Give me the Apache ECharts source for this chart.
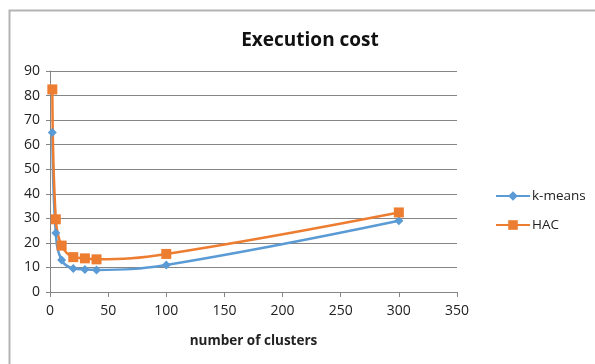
<!DOCTYPE html>
<html><head><meta charset="utf-8">
<script src="https://cdn.jsdelivr.net/npm/echarts@6/dist/echarts.min.js"></script>
<style>html,body{margin:0;padding:0;background:#fff}#c{width:595px;height:364px}</style>
</head><body><div id="c"></div>
<script>
const clusters = [2, 5, 10, 20, 30, 40, 100, 300];
const kmeans = [65, 24, 13, 9.6, 9.2, 9.0, 11, 29];
const hac = [82.5, 29.6, 18.9, 14.2, 13.7, 13.3, 15.5, 32.4];
const xTicks = [0, 350, 50];
const yTicks = [0, 90, 10];

const chart = echarts.init(document.getElementById('c'), null, {renderer: 'canvas'});
const font = 'Open Sans';
chart.setOption({
  animation: false,
  backgroundColor: '#fff',
  graphic: [{
    type: 'rect', left: 7, top: 8,
    shape: {width: 620, height: 400},
    style: {fill: 'none', stroke: '#b4b4b4', lineWidth: 2}
  }],
  title: {
    text: 'Execution cost', left: 305, top: 26, textAlign: 'center',
    textStyle: {fontFamily: font, fontWeight: 'bold', fontSize: 19, color: '#111'}
  },
  legend: {
    orient: 'vertical', left: 490, top: 184, itemGap: 15, itemWidth: 34, itemHeight: 12,
    itemStyle: {}, textStyle: {fontFamily: font, fontSize: 13.5, color: '#222', padding: [0, 0, 0, -3]},
    data: ['k-means', 'HAC']
  },
  grid: {left: 50, right: 138, top: 71, bottom: 72, containLabel: false},
  xAxis: {
    type: 'value', min: xTicks[0], max: xTicks[1], interval: xTicks[2],
    name: 'number of clusters', nameLocation: 'middle', nameGap: 42,
    nameTextStyle: {fontFamily: font, fontWeight: 'bold', fontSize: 13.5, color: '#222'},
    axisLine: {show: true, lineStyle: {color: '#868686', width: 1}},
    axisTick: {show: true, length: 5, lineStyle: {color: '#868686'}},
    axisLabel: {fontFamily: font, fontSize: 14, color: '#222', margin: 12},
    splitLine: {show: false}
  },
  yAxis: {
    type: 'value', min: yTicks[0], max: yTicks[1], interval: yTicks[2],
    axisLine: {show: true, lineStyle: {color: '#868686', width: 1}},
    axisTick: {show: true, length: 4, lineStyle: {color: '#868686'}},
    axisLabel: {fontFamily: font, fontSize: 14, color: '#222', margin: 10},
    splitLine: {show: true, lineStyle: {color: '#868686', width: 1}}
  },
  series: [
    {name: 'k-means', type: 'line', smooth: 0.4,
     data: clusters.map((x, i) => [x, kmeans[i]]),
     symbol: 'diamond', symbolSize: 9,
     lineStyle: {color: '#5B9BD5', width: 2.5},
     itemStyle: {color: '#5B9BD5'}},
    {name: 'HAC', type: 'line', smooth: 0.4,
     data: clusters.map((x, i) => [x, hac[i]]),
     symbol: 'rect', symbolSize: 10,
     lineStyle: {color: '#ED7D31', width: 2.5},
     itemStyle: {color: '#ED7D31'}}
  ]
});
</script></body></html>
